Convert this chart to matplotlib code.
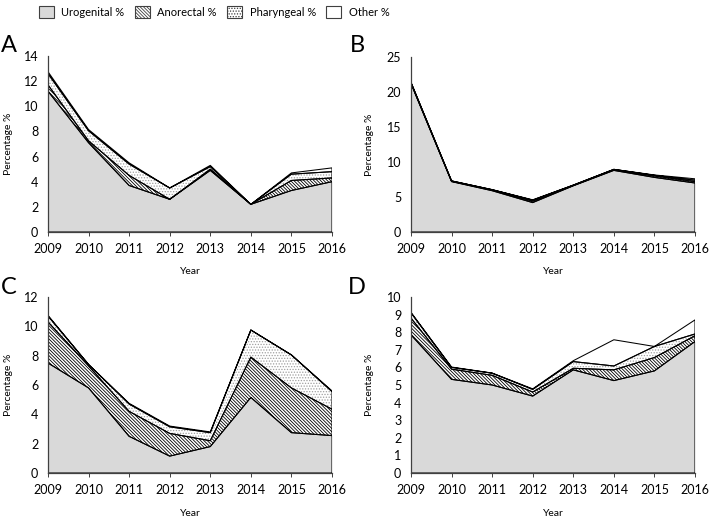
import matplotlib
matplotlib.use("Agg")
import matplotlib.pyplot as plt
import matplotlib.patches as mpatches
import numpy as np

years = [2009, 2010, 2011, 2012, 2013, 2014, 2015, 2016]
series_names = ["Urogenital %", "Anorectal %", "Pharyngeal %", "Other %"]

# Panel A
a_uro = [11.2, 7.1, 3.7, 2.6, 4.9, 2.2, 3.3, 4.0]
a_ano = [0.5, 0.15, 0.8, 0.0, 0.1, 0.0, 0.8, 0.3]
a_pha = [0.9, 0.8, 0.9, 0.9, 0.2, 0.0, 0.5, 0.5]
a_oth = [0.15, 0.1, 0.1, 0.0, 0.1, 0.0, 0.1, 0.3]
# Panel B
b_uro = [21.2, 7.2, 5.9, 4.2, 6.6, 8.8, 7.8, 7.0]
b_ano = [0.1, 0.05, 0.1, 0.2, 0.05, 0.1, 0.2, 0.2]
b_pha = [0.05, 0.05, 0.05, 0.15, 0.05, 0.05, 0.1, 0.2]
b_oth = [0.05, 0.0, 0.0, 0.05, 0.0, 0.0, 0.05, 0.2]
# Panel C
c_uro = [7.5, 5.8, 2.5, 1.15, 1.8, 5.15, 2.75, 2.55]
c_ano = [2.8, 1.5, 1.7, 1.55, 0.4, 2.75, 3.05, 1.8]
c_pha = [0.4, 0.1, 0.5, 0.45, 0.55, 1.85, 2.25, 1.2]
c_oth = [0.05, 0.0, 0.05, 0.05, 0.05, 0.0, 0.0, 0.05]
# Panel D
d_uro = [7.85, 5.32, 5.0, 4.37, 5.86, 5.25, 5.8, 7.47]
d_ano = [0.95, 0.58, 0.55, 0.23, 0.09, 0.61, 0.76, 0.33]
d_pha = [0.3, 0.1, 0.12, 0.15, 0.38, 0.22, 0.63, 0.1]
d_oth = [0.03, 0.02, 0.01, 0.03, 0.05, 1.49, 0.0, 0.8]

panels = [
    ("A", [a_uro, a_ano, a_pha, a_oth], 14, 2),
    ("B", [b_uro, b_ano, b_pha, b_oth], 25, 5),
    ("C", [c_uro, c_ano, c_pha, c_oth], 12, 2),
    ("D", [d_uro, d_ano, d_pha, d_oth], 10, 1),
]

plt.rcParams['font.family'] = ['Lato', 'DejaVu Sans']
plt.rcParams['hatch.linewidth'] = 0.6

fills = ['#d9d9d9', 'white', 'white', 'white']
hatches = [None, '\\' * 10, '......', None]
hatch_cols = ['black', 'black', '#a0a0a0', 'black']

fig = plt.figure(figsize=(7.09, 5.19), dpi=100)

W, H = 709, 519
positions = {
    "A": (48, 56, 332, 232),
    "B": (411, 57, 695, 232),
    "C": (48, 297, 332, 473),
    "D": (411, 297, 695, 473),
}
letter_pos = {"A": (9, 45), "B": (357, 45), "C": (9, 288), "D": (357, 288)}
ylabel_x = {"A": 9, "B": 369, "C": 9, "D": 369}

for name, data, ymax, ystep in panels:
    l, t, r, b = positions[name]
    ax = fig.add_axes([l / W, 1 - b / H, (r - l) / W, (b - t) / H])
    polys = ax.stackplot(years, *data, colors=fills, hatch=hatches, linewidth=0)
    for p, hc in zip(polys, hatch_cols):
        p.set_edgecolor(hc)
        p.set_linewidth(0)
    ax.stackplot(years, *data, colors=['none'] * 4, edgecolor='black', linewidth=0.75)
    ax.set_xlim(2009, 2016)
    ax.set_ylim(0, ymax)
    ax.set_xticks(years)
    ax.set_yticks(np.arange(0, ymax + 0.01, ystep))
    for s in ['top', 'right']:
        ax.spines[s].set_visible(False)
    for s in ['left', 'bottom']:
        ax.spines[s].set_color('#404040')
        ax.spines[s].set_linewidth(0.9)
    ax.tick_params(axis='x', direction='out', length=3, width=0.7, color='#404040',
                   labelsize=9, pad=5)
    ax.tick_params(axis='y', length=0, labelsize=9, pad=7)
    fig.text(ylabel_x[name] / W, 1 - (t + b) / 2 / H, "Percentage %", fontsize=7.5,
             rotation=90, ha='center', va='center')
    fig.text((l + r) / 2 / W, 1 - (b + 40) / H, "Year", fontsize=7.5,
             ha='center', va='center')
    lx, ly = letter_pos[name]
    fig.text(lx / W, 1 - ly / H, name, fontsize=17, ha='center', va='center')

handles = [mpatches.Patch(facecolor=fills[i], hatch=hatches[i], edgecolor='#404040',
                          linewidth=0.8, label=series_names[i]) for i in range(4)]
fig.legend(handles=handles, loc='center', bbox_to_anchor=(214 / W, 1 - 12 / H),
           ncol=4, frameon=False, fontsize=8, handlelength=1.35, handleheight=1.35,
           columnspacing=0.9, handletextpad=0.7)

fig.savefig("out.png", dpi=100)
